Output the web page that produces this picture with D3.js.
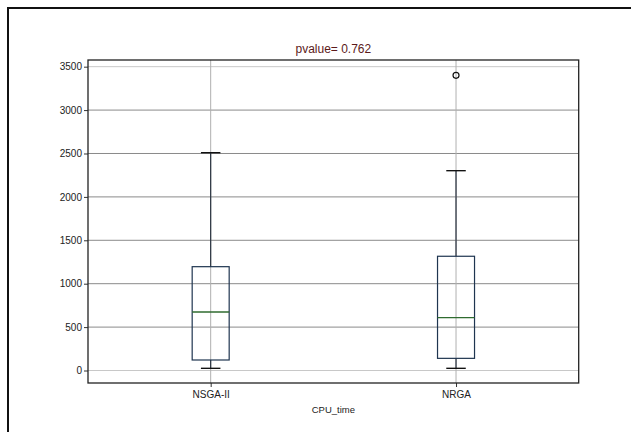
<!DOCTYPE html>
<html>
<head>
<meta charset="utf-8">
<script src="https://cdn.jsdelivr.net/npm/d3@7"></script>
<style>
  body { margin: 0; background: #fff; }
  text { font-family: "Liberation Sans", Arial, sans-serif; }
</style>
</head>
<body>
<div id="chart"></div>
<script>
// data
var groups = ["NSGA-II", "NRGA"];
var whiskerLow = [25, 25];
var q1 = [121, 140];
var medians = [674, 608];
var q3 = [1196, 1316];
var whiskerHigh = [2509, 2302];
var outliers = [[], [3400]];
var yTicks = [0, 500, 1000, 1500, 2000, 2500, 3000, 3500];

var svgWidth = 631;
var svgHeight = 432;

var margin = { top: 60, right: 52, bottom: 49, left: 88 };
var width = 578.7 - margin.left;
var height = 383 - margin.top;

var svg = d3.select("#chart")
  .append("svg")
  .attr("width", svgWidth)
  .attr("height", svgHeight);

// outer frame (left + top only)
svg.append("path")
  .attr("d", "M8,432 L8,8 L631,8")
  .attr("fill", "none")
  .attr("stroke", "#111")
  .attr("stroke-width", 2);

var chartGroup = svg.append("g")
  .attr("transform", `translate(${margin.left}, ${margin.top})`);

// scales
var xScale = d3.scaleLinear().domain([0.5, 2.5]).range([0, width]);
var yScale = d3.scaleLinear().domain([-144, 3577]).range([height, 0]);

// grid
chartGroup.selectAll(".hgrid")
  .data(yTicks)
  .enter()
  .append("line")
  .attr("x1", 0)
  .attr("x2", width)
  .attr("y1", d => yScale(d))
  .attr("y2", d => yScale(d))
  .attr("stroke", d => (d === 0 || d === 3500) ? "#c8c8c8" : "#8a8a8a")
  .attr("stroke-width", 1);

chartGroup.selectAll(".vgrid")
  .data(groups)
  .enter()
  .append("line")
  .attr("x1", (d, i) => xScale(i + 1))
  .attr("x2", (d, i) => xScale(i + 1))
  .attr("y1", 0)
  .attr("y2", height)
  .attr("stroke", "#b0b0b0")
  .attr("stroke-width", 1);

// axes
var leftAxis = d3.axisLeft(yScale).tickValues(yTicks).tickFormat(d3.format("d"))
  .tickSize(4).tickPadding(2);
var bottomAxis = d3.axisBottom(xScale).tickValues([1, 2])
  .tickFormat((d, i) => groups[i]).tickSize(4).tickPadding(4);

var yAxisG = chartGroup.append("g").call(leftAxis);
var xAxisG = chartGroup.append("g")
  .attr("transform", `translate(0, ${height})`)
  .call(bottomAxis);

[yAxisG, xAxisG].forEach(function(g) {
  g.select(".domain").remove();
  g.selectAll("text").attr("font-size", "10px").attr("fill", "#222")
    .attr("font-family", "'Liberation Sans', Arial, sans-serif");
  g.selectAll("line").attr("stroke", "#333");
});

// frame of the plot area
chartGroup.append("rect")
  .attr("width", width)
  .attr("height", height)
  .attr("fill", "none")
  .attr("stroke", "#222")
  .attr("stroke-width", 1.3);

// boxes
var boxW = 37;
var capW = 19.5;

groups.forEach(function(g, i) {
  var cx = xScale(i + 1);

  // whiskers
  chartGroup.append("line")
    .attr("x1", cx).attr("x2", cx)
    .attr("y1", yScale(q3[i])).attr("y2", yScale(whiskerHigh[i]))
    .attr("stroke", "#2a3340").attr("stroke-width", 1.2);
  chartGroup.append("line")
    .attr("x1", cx).attr("x2", cx)
    .attr("y1", yScale(q1[i])).attr("y2", yScale(whiskerLow[i]))
    .attr("stroke", "#2a3340").attr("stroke-width", 1.2);

  // caps
  [whiskerHigh[i], whiskerLow[i]].forEach(function(v) {
    chartGroup.append("line")
      .attr("x1", cx - capW / 2).attr("x2", cx + capW / 2)
      .attr("y1", yScale(v)).attr("y2", yScale(v))
      .attr("stroke", "#111").attr("stroke-width", 1.4);
  });

  // box
  chartGroup.append("rect")
    .attr("x", cx - boxW / 2)
    .attr("y", yScale(q3[i]))
    .attr("width", boxW)
    .attr("height", yScale(q1[i]) - yScale(q3[i]))
    .attr("fill", "none")
    .attr("stroke", "#1f3550")
    .attr("stroke-width", 1.2);

  // median
  chartGroup.append("line")
    .attr("x1", cx - boxW / 2).attr("x2", cx + boxW / 2)
    .attr("y1", yScale(medians[i])).attr("y2", yScale(medians[i]))
    .attr("stroke", "#2f6b2f").attr("stroke-width", 1.3);

  // outliers
  chartGroup.selectAll(null)
    .data(outliers[i])
    .enter()
    .append("circle")
    .attr("cx", cx)
    .attr("cy", d => yScale(d))
    .attr("r", 3)
    .attr("fill", "none")
    .attr("stroke", "#111")
    .attr("stroke-width", 1.2);
});

// title
chartGroup.append("text")
  .attr("x", width / 2)
  .attr("y", -7)
  .attr("text-anchor", "middle")
  .attr("font-size", "12px")
  .attr("fill", "#5c1a1a")
  .text("pvalue= 0.762");

// x label
chartGroup.append("text")
  .attr("x", width / 2)
  .attr("y", height + 30)
  .attr("text-anchor", "middle")
  .attr("font-size", "9.5px")
  .attr("fill", "#222")
  .text("CPU_time");
</script>
</body>
</html>
